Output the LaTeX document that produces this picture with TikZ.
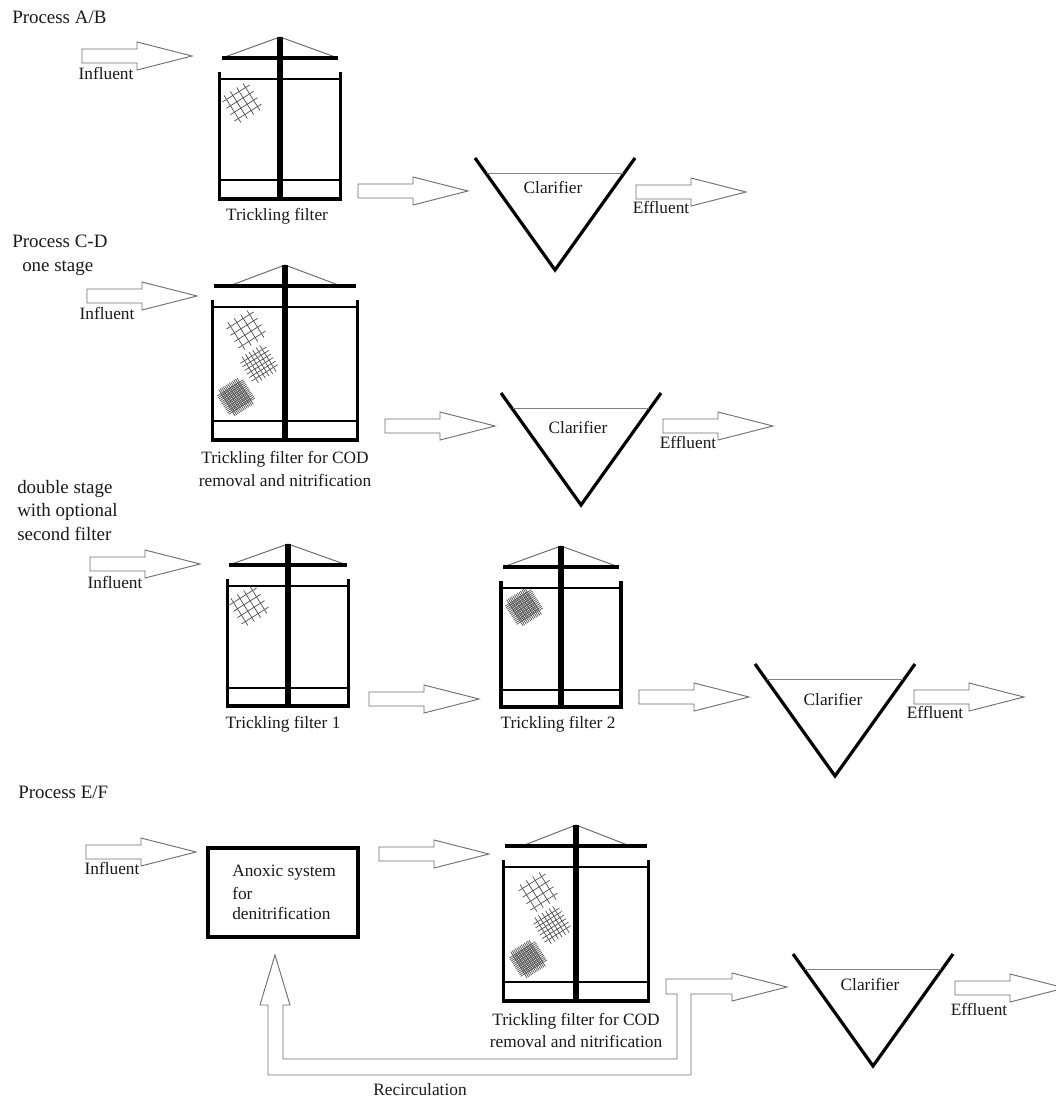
\documentclass[tikz,border=0pt]{standalone}
\usepackage{fontspec}
\setmainfont{Liberation Serif}
\definecolor{ink}{HTML}{1A1A1A}
\definecolor{arrowline}{HTML}{707070}
\definecolor{meshline}{HTML}{555555}
\tikzset{
  label text/.style={text=ink,inner sep=0pt,font=\fontsize{13}{15}\selectfont},
  left text/.style={text=ink,inner sep=0pt,anchor=west,font=\fontsize{14.2}{16}\selectfont},
  box text/.style={label text,anchor=west},
  block arrow/.style={draw=arrowline,line width=0.7pt,fill=white,line join=miter},
  thick wall/.style={draw=black,line width=2.4pt,line cap=butt},
  thin wall/.style={draw=black,line width=1.3pt},
  roof cone/.style={draw=black!60,line width=0.7pt},
  mesh line/.style={draw=meshline,line width=0.55pt},
  settling line/.style={draw=black!50,line width=0.8pt},
  box shape/.style={draw=black,line width=2.7pt,minimum width=112.5pt,minimum height=66.75pt,inner sep=0pt},
}
% tail x, mid y, tip x
\newcommand{\flowarrow}[3]{%
  \draw[block arrow] (#1,#2-7) -- (#3-55,#2-7) -- (#3-55,#2-14) -- (#3,#2) -- (#3-55,#2+14) -- (#3-55,#2+7) -- (#1,#2+7) -- cycle;}
% cx, half width, apex y, lower line y, bottom y, roof half, cone half
\newcommand{\tfilter}[7]{%
  \draw[roof cone] (#1-#7,#3+21) -- (#1,#3) -- (#1+#7,#3+21);
  \draw[thin wall] (#1-#2,#3+42) -- (#1+#2,#3+42);
  \draw[thin wall] (#1-#2,#4) -- (#1+#2,#4);
  \draw[thick wall] (#1-#6,#3+21) -- (#1+#6,#3+21);
  \draw[thick wall] (#1-#2,#3+35) -- (#1-#2,#5) -- (#1+#2,#5) -- (#1+#2,#3+35);
  \draw[draw=black,line width=3.9pt] (#1,#3) -- (#1,#5-2);}
% cx, cy, lines, spacing, half length
\newcommand{\meshpatch}[5]{%
  \begin{scope}[shift={(#1,#2)},rotate=32]
    \foreach \i in {1,...,#3}{
      \draw[mesh line] ({(\i-(#3+1)/2)*#4},-#5) -- ({(\i-(#3+1)/2)*#4},#5);
      \draw[mesh line] (-#5,{(\i-(#3+1)/2)*#4}) -- (#5,{(\i-(#3+1)/2)*#4});
    }
  \end{scope}}
\newcommand{\sparsemesh}[2]{\meshpatch{#1}{#2}{4}{7.5}{16}}
\newcommand{\midmesh}[2]{\meshpatch{#1}{#2}{6}{4.2}{15.5}}
\newcommand{\densemesh}[2]{\meshpatch{#1}{#2}{13}{1.8}{15.5}}
% apex x, top y
\newcommand{\clarifier}[2]{%
  \draw[thick wall,line join=miter] (#1-80,#2) -- (#1,#2+112) -- (#1+80,#2);
  \draw[settling line] (#1-68,#2+15.5) -- (#1+68,#2+15.5);}
\begin{document}
\begin{tikzpicture}[x=0.75pt,y=-0.75pt]
\useasboundingbox (0,0) rectangle (1056,1099);
\clip (0,0) rectangle (1056,1099);
\fill[white] (0,0) rectangle (1056,1099);

% Process A/B
\tfilter{280}{60.5}{37}{180}{199}{58}{58}
\sparsemesh{242}{103}
\clarifier{555}{158}
\flowarrow{82}{56}{192}
\flowarrow{358}{191}{468}
\flowarrow{636}{192}{746}
\node[left text] (pab) at (12,17) {Process A/B};
\node[label text] (inf1) at (106,73) {Influent};
\node[label text] (tf1) at (277,216) {Trickling filter};
\node[label text] (cl1) at (553,187) {Clarifier};
\node[label text] (ef1) at (661,207) {Effluent};

% Process C-D one stage
\tfilter{285}{72.5}{265}{421}{440}{71}{56}
\sparsemesh{246}{330}
\midmesh{259}{364}
\densemesh{236}{397}
\clarifier{581}{393}
\flowarrow{87}{296}{197}
\flowarrow{385}{426}{495}
\flowarrow{663}{426}{773}
\node[left text] (pcd) at (12,241) {Process C-D};
\node[left text] (one) at (22,268) {one stage};
\node[label text] (inf2) at (107,313) {Influent};
\node[label text] (tf2a) at (285,459) {Trickling filter for COD};
\node[label text] (tf2b) at (285,480) {removal and nitrification};
\node[label text] (cl2) at (578,427) {Clarifier};
\node[label text] (ef2) at (688,442) {Effluent};

% double stage
\tfilter{288}{60.5}{544}{688}{706}{59}{59}
\sparsemesh{249}{606}
\tfilter{561}{60}{546}{690}{707}{58}{58}
\densemesh{524}{607}
\clarifier{835}{664}
\flowarrow{90}{564}{200}
\flowarrow{369}{699}{479}
\flowarrow{639}{697}{749}
\flowarrow{914}{697}{1024}
\node[left text] (ds1) at (17,489) {double stage};
\node[left text] (ds2) at (17,512) {with optional};
\node[left text] (ds3) at (17,534) {second filter};
\node[label text] (inf3) at (115,582) {Influent};
\node[label text] (tf3) at (283,724) {Trickling filter 1};
\node[label text] (tf4) at (558,724) {Trickling filter 2};
\node[label text] (cl3) at (833,699) {Clarifier};
\node[label text] (ef3) at (935,712) {Effluent};

% Process E/F
\node[left text] (pef) at (18,792) {Process E/F};
\flowarrow{86}{852}{196}
\node[label text] (inf4) at (112,868) {Influent};
\node[box shape] (anox) at (283,892.5) {};
\node[box text] (an1) at (232,873) {Anoxic system};
\node[box text] (an2) at (232,893) {for};
\node[box text] (an3) at (232,913) {denitrification};
\flowarrow{379}{854}{489}
\tfilter{576}{72.5}{825}{982}{1001}{71}{54}
\sparsemesh{538}{892}
\midmesh{552}{925}
\densemesh{528}{959}
\draw[block arrow] (275,955) -- (290,1005) -- (283,1005) -- (283,1059) -- (677,1059) -- (677,994) -- (666,994) -- (666,979) -- (732,979) -- (732,973) -- (787,987) -- (732,1001) -- (732,994) -- (691,994) -- (691,1075) -- (268,1075) -- (268,1005) -- (260,1005) -- cycle;
\clarifier{873}{954}
\flowarrow{955}{988}{1065}
\node[label text] (tf5a) at (576,1021) {Trickling filter for COD};
\node[label text] (tf5b) at (576,1041) {removal and nitrification};
\node[label text] (cl4) at (870,984) {Clarifier};
\node[label text] (ef4) at (979,1009) {Effluent};
\node[label text] (rec) at (420,1090) {Recirculation};
\end{tikzpicture}
\end{document}
